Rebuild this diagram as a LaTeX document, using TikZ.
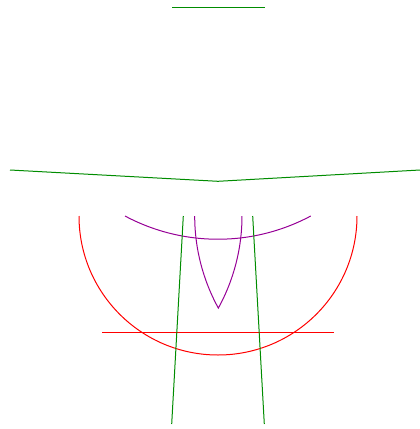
\documentclass[tikz,border=0pt]{standalone}
\usepackage{xcolor}
\usepackage{tikz}
\definecolor{LnGreen}{RGB}{0,140,0}
\definecolor{LnRed}{RGB}{255,0,0}
\definecolor{LnPurple}{RGB}{150,0,150}

\begin{document}
\begin{tikzpicture}[x=1pt, y=-1pt,
          gline/.style={draw=LnGreen, line width=1pt},
          rline/.style={draw=LnRed, line width=1pt},
          pline/.style={draw=LnPurple, line width=1pt}
        ]
        \useasboundingbox (0,0) rectangle (420,429);

        % Top segment and kinked line
        \draw[gline] (172,7.5) -- (264.5,7.5);
        \draw[gline] (10,170) -- (218,181.3) -- (420,170);

        % Red half circle and chord
        \draw[rline] (79,216) arc (180:0:139);
        \draw[rline] (102,332) -- (334,332);

        % Purple arcs
        \draw[pline] (125,216) arc (118.1:61.9:197.2);
        \draw[pline] (194.7,216) arc (180:151.2:191.1)
                     arc (28.8:0:191.1);

        % Two slanted lines
        \draw[gline] (183.3,216) -- (171.7,424);
        \draw[gline] (252.7,216) -- (264.3,424);
      \end{tikzpicture}
\end{document}
